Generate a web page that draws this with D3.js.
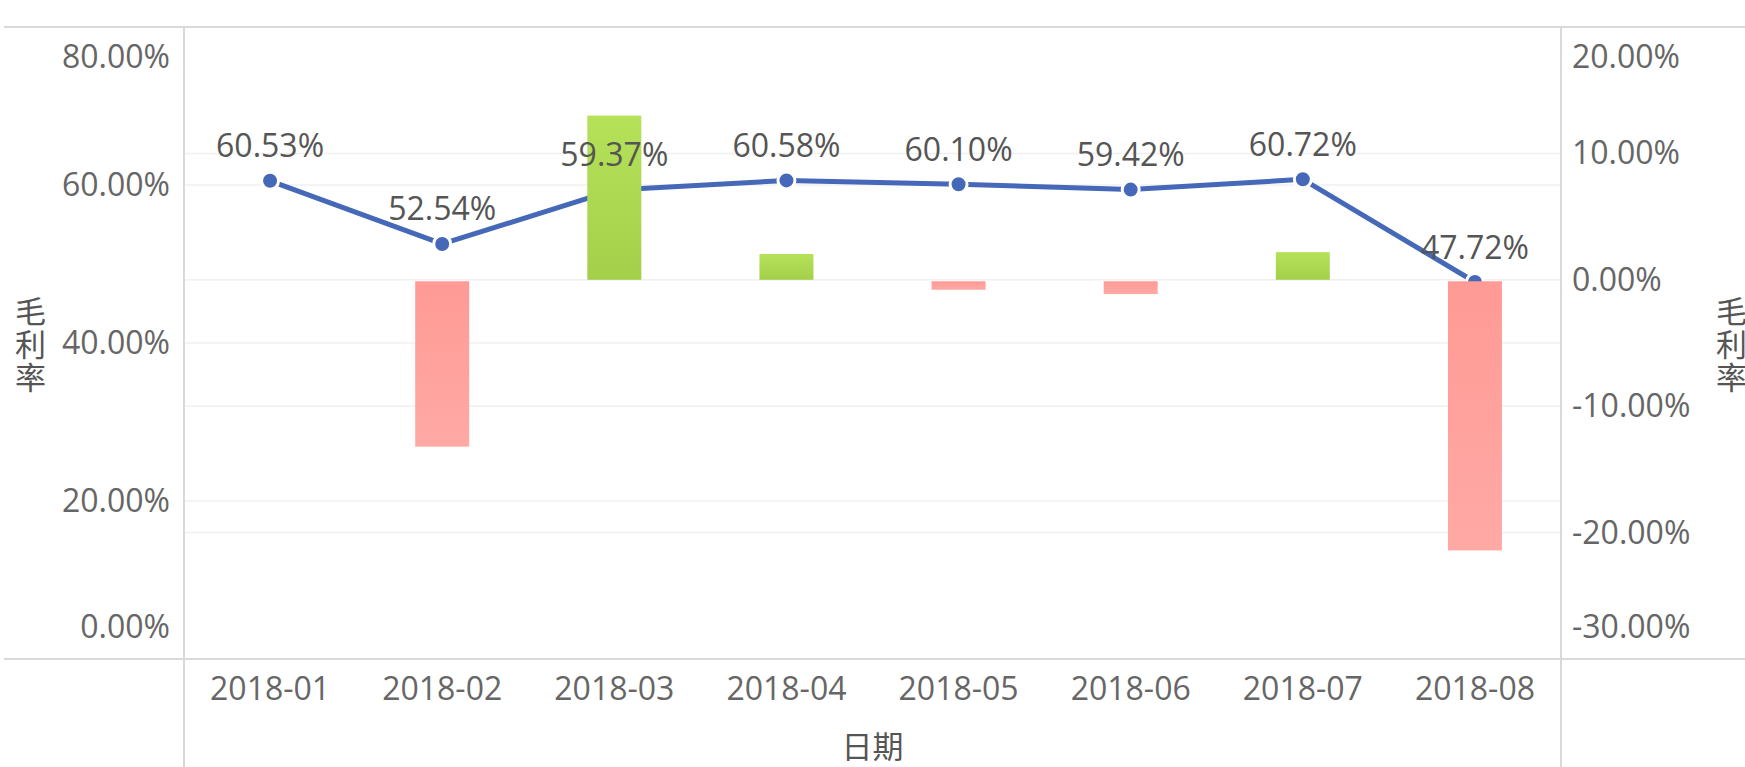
<!DOCTYPE html>
<html>
<head>
<meta charset="utf-8">
<script src="https://cdn.jsdelivr.net/npm/d3@7"></script>
<style>
  html, body { margin: 0; padding: 0; background: #fff; }
  svg { display: block; }
  text { font-family: "Open Sans", "Noto Sans CJK SC", sans-serif; }
</style>
</head>
<body>
<svg id="chart" width="1745" height="767"></svg>
<script>
// ---- data ----
const categories = ["2018-01", "2018-02", "2018-03", "2018-04", "2018-05", "2018-06", "2018-07", "2018-08"];
const marginRate = [0.6053, 0.5254, 0.5937, 0.6058, 0.6010, 0.5942, 0.6072, 0.4772];
const changeRate = [0, -0.1320, 0.1299, 0.0204, -0.0079, -0.0113, 0.0219, -0.2141];
const leftTicks = [0, 0.2, 0.4, 0.6, 0.8];
const rightTicks = [-0.3, -0.2, -0.1, 0, 0.1, 0.2];
const xTitle = "日期";
const yTitle = "毛利率";

// ---- layout ----
const W = 1745, H = 767;
const plot = { left: 184, right: 1561, top: 27, bottom: 659 };
const svg = d3.select("#chart");
const pct = d3.format(".2%");
const fmt = v => pct(v).replace("\u2212", "-");

const x = d3.scaleBand().domain(categories).range([plot.left, plot.right]).padding(0);
const yL = d3.scaleLinear().domain([0, 0.8]).range([plot.bottom, plot.top]);
const yR = d3.scaleLinear().domain([-0.3, 0.2]).range([plot.bottom, plot.top]);

const defs = svg.append("defs");
const gG = defs.append("linearGradient").attr("id", "gGreen").attr("x1", 0).attr("y1", 0).attr("x2", 0).attr("y2", 1);
gG.append("stop").attr("offset", "0%").attr("stop-color", "#b6e25a");
gG.append("stop").attr("offset", "100%").attr("stop-color", "#a3cf4a");
const gR = defs.append("linearGradient").attr("id", "gRed").attr("x1", 0).attr("y1", 0).attr("x2", 0).attr("y2", 1);
gR.append("stop").attr("offset", "0%").attr("stop-color", "#ff9a95");
gR.append("stop").attr("offset", "100%").attr("stop-color", "#ffa9a5");

// gridlines
const grid = svg.append("g");
grid.selectAll("line.gl").data(leftTicks.filter(d => d > 0 && d < 0.8)).join("line")
  .attr("x1", plot.left).attr("x2", plot.right)
  .attr("y1", d => yL(d)).attr("y2", d => yL(d))
  .attr("stroke", "#f0f0f0").attr("stroke-width", 1.5);
grid.selectAll("line.gr").data(rightTicks.filter(d => d > -0.3 && d < 0.2)).join("line")
  .attr("x1", plot.left).attr("x2", plot.right)
  .attr("y1", d => yR(d)).attr("y2", d => yR(d))
  .attr("stroke", "#f0f0f0").attr("stroke-width", 1.5);

// frame lines
const frame = svg.append("g").attr("stroke", "#d9d9d9").attr("stroke-width", 2);
frame.append("line").attr("x1", 4).attr("x2", W).attr("y1", plot.top).attr("y2", plot.top);
frame.append("line").attr("x1", 4).attr("x2", W).attr("y1", plot.bottom).attr("y2", plot.bottom);
frame.append("line").attr("x1", plot.left).attr("x2", plot.left).attr("y1", plot.top).attr("y2", H);
frame.append("line").attr("x1", plot.right).attr("x2", plot.right).attr("y1", plot.top).attr("y2", H);

// line series
const cx = d => x(d) + x.bandwidth() / 2;
const line = d3.line().x((d, i) => cx(categories[i])).y(d => yL(d));
svg.append("path").datum(marginRate)
  .attr("d", line).attr("fill", "none")
  .attr("stroke", "#4668b8").attr("stroke-width", 5).attr("stroke-linejoin", "round");
svg.append("g").selectAll("circle").data(marginRate).join("circle")
  .attr("cx", (d, i) => cx(categories[i])).attr("cy", d => yL(d))
  .attr("r", 8.5).attr("fill", "#4668b8").attr("stroke", "#fff").attr("stroke-width", 3);

// bars
const bw = 54;
svg.append("g").selectAll("rect").data(changeRate).join("rect")
  .attr("x", (d, i) => cx(categories[i]) - bw / 2)
  .attr("width", bw)
  .attr("y", d => d >= 0 ? yR(d) : yR(0) + 1.5)
  .attr("height", d => Math.max(0, Math.abs(yR(d) - yR(0)) - (d >= 0 ? 0 : 1.5)))
  .attr("fill", d => d >= 0 ? "url(#gGreen)" : "url(#gRed)");

// data labels
svg.append("g").selectAll("text").data(marginRate).join("text")
  .attr("x", (d, i) => cx(categories[i])).attr("y", d => yL(d) - 36)
  .attr("text-anchor", "middle").attr("dominant-baseline", "central")
  .attr("font-size", 32).attr("fill", "#555")
  .text(d => fmt(d));

// axes
function styleAxis(g) {
  g.select(".domain").remove();
  g.selectAll("text").attr("font-size", 32).attr("fill", "#666")
    .attr("font-family", "\"Open Sans\", \"Noto Sans CJK SC\", sans-serif");
}
const clampOff = (py) => {
  const c = Math.max(plot.top + 30, Math.min(plot.bottom - 32, py));
  return c - py - 2;
};
const axL = svg.append("g").attr("transform", `translate(${plot.left},0)`)
  .call(d3.axisLeft(yL).tickValues(leftTicks).tickFormat(fmt).tickSize(0).tickPadding(14))
  .call(styleAxis);
axL.selectAll(".tick text").attr("dy", null).attr("dominant-baseline", "central")
  .attr("y", d => clampOff(yL(d)));
const axR = svg.append("g").attr("transform", `translate(${plot.right},0)`)
  .call(d3.axisRight(yR).tickValues(rightTicks).tickFormat(fmt).tickSize(0).tickPadding(11))
  .call(styleAxis);
axR.selectAll(".tick text").attr("dy", null).attr("dominant-baseline", "central")
  .attr("y", d => clampOff(yR(d)));
const axX = svg.append("g").attr("transform", `translate(0,${plot.bottom})`)
  .call(d3.axisBottom(x).tickSize(0))
  .call(styleAxis);
axX.selectAll(".tick text").attr("dy", null).attr("dominant-baseline", "central").attr("y", 28);

// axis titles
svg.append("text").attr("x", (plot.left + plot.right) / 2).attr("y", 746)
  .attr("text-anchor", "middle").attr("dominant-baseline", "central")
  .attr("font-size", 31).attr("fill", "#555").text(xTitle);
function vTitle(xPos) {
  svg.append("text").attr("x", xPos).attr("y", 345)
    .attr("text-anchor", "middle")
    .style("writing-mode", "vertical-rl").style("text-orientation", "upright")
    .attr("letter-spacing", 2)
    .attr("font-size", 31).attr("fill", "#555").text(yTitle);
}
vTitle(29);
vTitle(1730);
</script>
</body>
</html>
